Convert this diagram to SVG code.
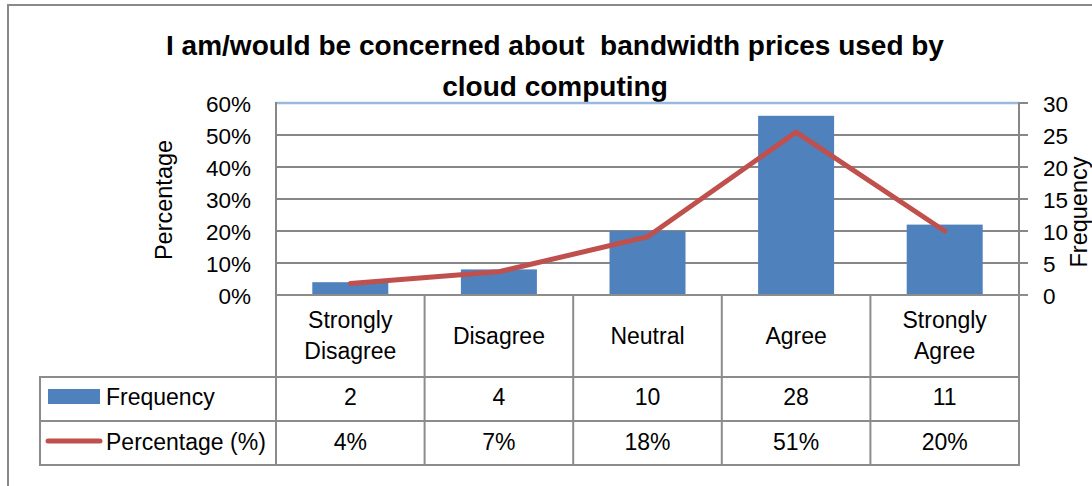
<svg xmlns="http://www.w3.org/2000/svg" width="1092" height="486" viewBox="0 0 1092 486">
  <style>
    text { font-family: "Liberation Sans", Arial, sans-serif; fill: #000; }
    .title { font-size: 28px; font-weight: bold; text-anchor: middle; white-space: pre; }
    .tick { font-size: 22.5px; }
    .left { text-anchor: end; }
    .axis-title { font-size: 23.5px; text-anchor: middle; }
    .cell { font-size: 23px; text-anchor: middle; }
    .legend { font-size: 23px; }
    .grid { stroke: #878787; stroke-width: 2; fill: none; }
    .table { stroke: #8c8c8c; stroke-width: 2; fill: none; }
    .bar { fill: #4f81bd; }
    .series-line { stroke: #c0504d; stroke-width: 5; fill: none; stroke-linejoin: round; stroke-linecap: round; }
  </style>

  <!-- chart background and frame -->
  <rect x="0" y="0" width="1092" height="486" fill="#ffffff"/>
  <rect x="8" y="5" width="1100" height="500" fill="none" stroke="#898989" stroke-width="2"/>

  <!-- title -->
  <g id="title">
    <text class="title" x="555" y="55">I am/would be concerned about  bandwidth prices used by</text>
    <text class="title" x="555" y="96">cloud computing</text>
  </g>

  <!-- gridlines and axes -->
  <g id="grid">
    <line class="grid" x1="276" y1="135" x2="1028" y2="135"/>
    <line class="grid" x1="276" y1="167" x2="1028" y2="167"/>
    <line class="grid" x1="276" y1="199" x2="1028" y2="199"/>
    <line class="grid" x1="276" y1="231" x2="1028" y2="231"/>
    <line class="grid" x1="276" y1="263" x2="1028" y2="263"/>
    <line x1="276" y1="103" x2="1019" y2="103" stroke="#9db8de" stroke-width="2.5"/>
    <line class="grid" x1="1019" y1="103" x2="1028" y2="103"/>
    <line class="grid" x1="276" y1="102" x2="276" y2="295"/>
    <line class="grid" x1="1019" y1="102" x2="1019" y2="295"/>
  </g>

  <!-- frequency bars -->
  <g id="bars">
    <rect id="bar-strongly-disagree" class="bar" x="312.3" y="282.2" width="76" height="12.8"/>
    <rect id="bar-disagree" class="bar" x="460.9" y="269.4" width="76" height="25.6"/>
    <rect id="bar-neutral" class="bar" x="609.5" y="231" width="76" height="64"/>
    <rect id="bar-agree" class="bar" x="758.1" y="115.8" width="76" height="179.2"/>
    <rect id="bar-strongly-agree" class="bar" x="906.7" y="224.6" width="76" height="70.4"/>
  </g>

  <!-- percentage line -->
  <g id="connectors">
    <polyline class="series-line" points="350.3,283.4 498.9,271.7 647.5,236.8 796.1,132.1 944.7,231"/>
  </g>

  <!-- left axis labels -->
  <g id="axis-left">
    <text class="tick left" x="251" y="111.5">60%</text>
    <text class="tick left" x="251" y="143.5">50%</text>
    <text class="tick left" x="251" y="175.5">40%</text>
    <text class="tick left" x="251" y="207.5">30%</text>
    <text class="tick left" x="251" y="239.5">20%</text>
    <text class="tick left" x="251" y="271.5">10%</text>
    <text class="tick left" x="251" y="303.5">0%</text>
    <text class="axis-title" transform="translate(172,200) rotate(-90)">Percentage</text>
  </g>

  <!-- right axis labels -->
  <g id="axis-right">
    <text class="tick" x="1043" y="111.5">30</text>
    <text class="tick" x="1043" y="143.5">25</text>
    <text class="tick" x="1043" y="175.5">20</text>
    <text class="tick" x="1043" y="207.5">15</text>
    <text class="tick" x="1043" y="239.5">10</text>
    <text class="tick" x="1043" y="271.5">5</text>
    <text class="tick" x="1043" y="303.5">0</text>
    <text class="axis-title" transform="translate(1087,212) rotate(-90)">Frequency</text>
  </g>

  <!-- data table -->
  <g id="data-table">
    <line class="table" x1="276" y1="295" x2="1028" y2="295"/>
    <line class="table" x1="40" y1="377" x2="1019" y2="377"/>
    <line class="table" x1="40" y1="421" x2="1019" y2="421"/>
    <line class="table" x1="40" y1="465" x2="1019" y2="465"/>
    <line class="table" x1="40" y1="376" x2="40" y2="466"/>
    <line class="table" x1="276" y1="295" x2="276" y2="466"/>
    <line class="table" x1="424.6" y1="295" x2="424.6" y2="466"/>
    <line class="table" x1="573.2" y1="295" x2="573.2" y2="466"/>
    <line class="table" x1="721.8" y1="295" x2="721.8" y2="466"/>
    <line class="table" x1="870.4" y1="295" x2="870.4" y2="466"/>
    <line class="table" x1="1019" y1="295" x2="1019" y2="466"/>
  </g>

  <g id="categories">
    <text class="cell" x="350.3" y="328">Strongly</text>
    <text class="cell" x="350.3" y="359">Disagree</text>
    <text class="cell" x="498.9" y="343.5">Disagree</text>
    <text class="cell" x="647.5" y="343.5">Neutral</text>
    <text class="cell" x="796.1" y="343.5">Agree</text>
    <text class="cell" x="944.7" y="328">Strongly</text>
    <text class="cell" x="944.7" y="359">Agree</text>
  </g>

  <g id="legend-frequency">
    <rect class="bar" x="48" y="389" width="52" height="15"/>
    <text class="legend" x="106" y="405">Frequency</text>
    <text class="cell" x="350.3" y="405">2</text>
    <text class="cell" x="498.9" y="405">4</text>
    <text class="cell" x="647.5" y="405">10</text>
    <text class="cell" x="796.1" y="405">28</text>
    <text class="cell" x="944.7" y="405">11</text>
  </g>

  <g id="legend-percentage">
    <line class="series-line" x1="48" y1="441" x2="100" y2="441"/>
    <text class="legend" x="106" y="450">Percentage (%)</text>
    <text class="cell" x="350.3" y="450">4%</text>
    <text class="cell" x="498.9" y="450">7%</text>
    <text class="cell" x="647.5" y="450">18%</text>
    <text class="cell" x="796.1" y="450">51%</text>
    <text class="cell" x="944.7" y="450">20%</text>
  </g>
</svg>
